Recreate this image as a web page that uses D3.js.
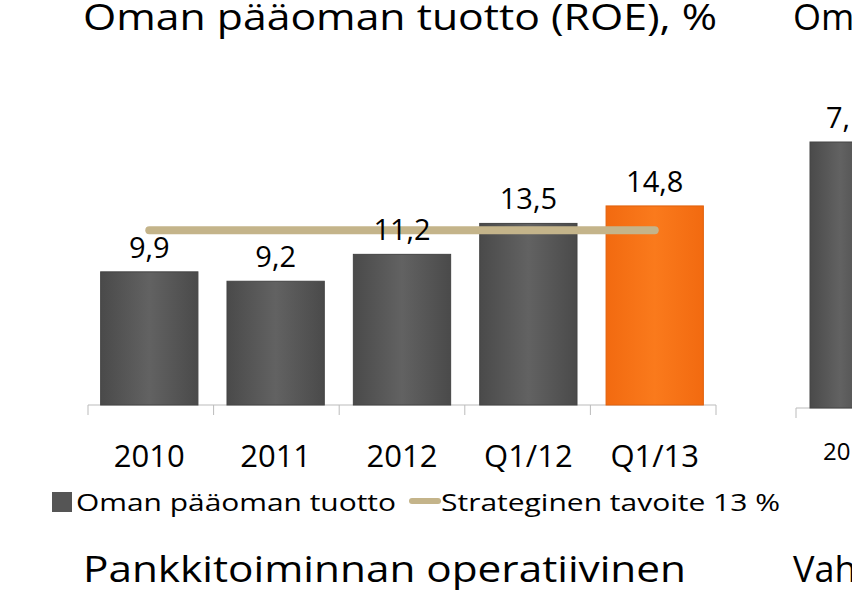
<!DOCTYPE html>
<html><head><meta charset="utf-8">
<script src="https://cdn.jsdelivr.net/npm/d3@7"></script>
<style>body{margin:0;background:#fff;overflow:hidden}text{font-family:"Open Sans","Liberation Sans",Arial,sans-serif;fill:#000}</style>
</head><body><div id="chart"></div>
<script>
/* data */
const categories = ["2010", "2011", "2012", "Q1/12", "Q1/13"];
const roeValues = [9.9, 9.2, 11.2, 13.5, 14.8];
const valueLabels = ["9,9", "9,2", "11,2", "13,5", "14,8"];
const targetValue = 13;
const seriesNames = ["Oman pääoman tuotto", "Strateginen tavoite 13 %"];

const svg = d3.select("#chart").append("svg").attr("width", 852).attr("height", 590);

const defs = svg.append("defs");
const g1 = defs.append("linearGradient").attr("id", "grey").attr("x1", 0).attr("x2", 1);
g1.append("stop").attr("offset", 0).attr("stop-color", "#4a4a4a");
g1.append("stop").attr("offset", 0.5).attr("stop-color", "#626262");
g1.append("stop").attr("offset", 1).attr("stop-color", "#4a4a4a");
const g2 = defs.append("linearGradient").attr("id", "orange").attr("x1", 0).attr("x2", 1);
g2.append("stop").attr("offset", 0).attr("stop-color", "#f26a10");
g2.append("stop").attr("offset", 0.5).attr("stop-color", "#fa7a1c");
g2.append("stop").attr("offset", 1).attr("stop-color", "#f26a10");

/* titles (cropped slide) */
svg.append("text").attr("x", 83).attr("y", 30).style("font-size", "36px")
  .attr("textLength", 634).attr("lengthAdjust", "spacingAndGlyphs").text("Oman pääoman tuotto (ROE), %");
svg.append("text").attr("x", 793).attr("y", 30).style("font-size", "36px").text("Om");
svg.append("text").attr("x", 83).attr("y", 582).style("font-size", "36px")
  .attr("textLength", 603).attr("lengthAdjust", "spacingAndGlyphs").text("Pankkitoiminnan operatiivinen");
svg.append("text").attr("x", 793).attr("y", 582).style("font-size", "36px").text("Vah");

/* scales */
const x = d3.scaleBand().domain(categories).range([88, 716]).paddingInner(0.23).paddingOuter(0.1);
const y = d3.scaleLinear().domain([0, 20]).range([405, 136]);

/* axis */
svg.append("line").attr("x1", 88).attr("x2", 716).attr("y1", 405).attr("y2", 405).attr("stroke", "#bbb");
const tickXs = d3.range(categories.length + 1).map(i => 88 + i * (628 / categories.length));
svg.selectAll(".tk").data(tickXs).enter().append("line")
  .attr("x1", d => d).attr("x2", d => d).attr("y1", 405).attr("y2", 415).attr("stroke", "#bbb");
svg.selectAll(".cat").data(categories).enter().append("text")
  .attr("x", d => x(d) + x.bandwidth() / 2).attr("y", 467).attr("text-anchor", "middle")
  .style("font-size", "31px").text(d => d);

/* bars */
svg.selectAll(".bar").data(roeValues).enter().append("rect")
  .attr("x", (d, i) => x(categories[i])).attr("y", d => y(d))
  .attr("width", x.bandwidth()).attr("height", d => y(0) - y(d))
  .attr("fill", (d, i) => i === 4 ? "url(#orange)" : "url(#grey)")
  .attr("stroke", (d, i) => i === 4 ? "#e0600c" : "#444").attr("stroke-width", 1);

/* target line */
const cx = d => x(d) + x.bandwidth() / 2;
svg.append("line").attr("x1", cx(categories[0])).attr("x2", cx(categories[4]))
  .attr("y1", y(targetValue)).attr("y2", y(targetValue))
  .attr("stroke", "#c4b48a").attr("stroke-width", 8).attr("stroke-linecap", "round");

/* value labels */
svg.selectAll(".val").data(roeValues).enter().append("text")
  .attr("x", (d, i) => cx(categories[i])).attr("y", d => y(d) - 14).attr("text-anchor", "middle")
  .style("font-size", "29px").text((d, i) => valueLabels[i]);

/* legend */
svg.append("rect").attr("x", 52).attr("y", 492).attr("width", 20).attr("height", 20).attr("fill", "#555");
svg.append("text").attr("x", 76).attr("y", 511).style("font-size", "24px")
  .attr("textLength", 320).attr("lengthAdjust", "spacingAndGlyphs").text(seriesNames[0]);
svg.append("line").attr("x1", 412).attr("x2", 438).attr("y1", 501).attr("y2", 501)
  .attr("stroke", "#c4b48a").attr("stroke-width", 6).attr("stroke-linecap", "round");
svg.append("text").attr("x", 441).attr("y", 511).style("font-size", "24px")
  .attr("textLength", 339).attr("lengthAdjust", "spacingAndGlyphs").text(seriesNames[1]);

/* second, cropped chart on the right */
svg.append("line").attr("x1", 796).attr("x2", 852).attr("y1", 408).attr("y2", 408).attr("stroke", "#bbb");
svg.append("line").attr("x1", 796).attr("x2", 796).attr("y1", 408).attr("y2", 418).attr("stroke", "#bbb");
svg.append("rect").attr("x", 810).attr("y", 142).attr("width", 60).attr("height", 266)
  .attr("fill", "url(#grey)").attr("stroke", "#444");
svg.append("text").attr("x", 826).attr("y", 128).style("font-size", "29px").text("7,");
svg.append("text").attr("x", 823).attr("y", 460).style("font-size", "24px").text("20");
</script></body></html>
